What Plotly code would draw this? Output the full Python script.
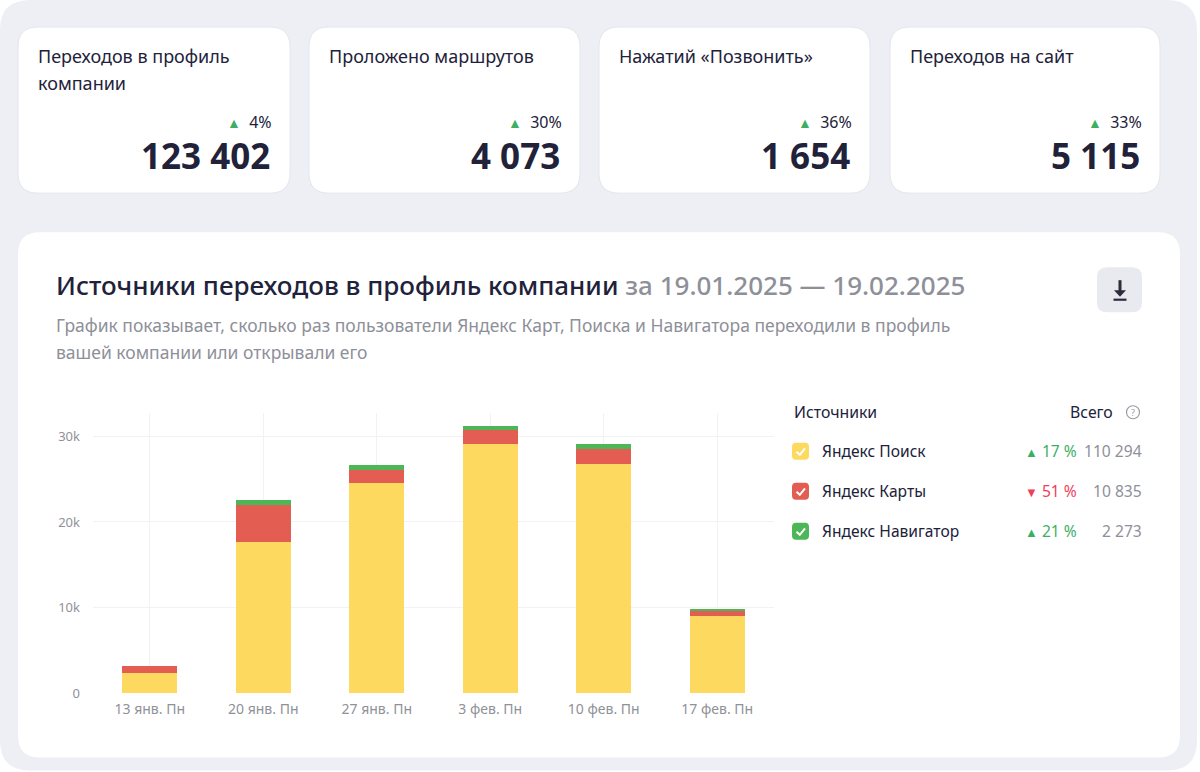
import plotly.graph_objects as go

# ---------------- data ----------------
categories = ["13 янв. Пн", "20 янв. Пн", "27 янв. Пн", "3 фев. Пн", "10 фев. Пн", "17 фев. Пн"]
search = [2350, 17700, 24550, 29150, 26800, 9000]
maps = [780, 4280, 1580, 1630, 1760, 560]
navi = [0, 580, 480, 430, 530, 290]

y_tickvals = [0, 10000, 20000, 30000]
y_ticktext = ["0", "10k", "20k", "30k"]

card_titles = [["Переходов в профиль", "компании"], ["Проложено маршрутов"],
               ["Нажатий «Позвонить»"], ["Переходов на сайт"]]
card_values = ["123 402", "4 073", "1 654", "5 115"]
card_changes = ["4%", "30%", "36%", "33%"]

source_names = ["Яндекс Поиск", "Яндекс Карты", "Яндекс Навигатор"]
source_changes = ["17 %", "51 %", "21 %"]
source_up = [True, False, True]
source_totals = ["110 294", "10 835", "2 273"]

title_main = "Источники переходов в профиль компании"
title_period = "за 19.01.2025 — 19.02.2025"
subtitle_lines = ["График показывает, сколько раз пользователи Яндекс Карт, Поиска и Навигатора переходили в профиль",
                  "вашей компании или открывали его"]

# ---------------- style ----------------
W, H = 1200, 772
HY = 762.5          # effective vertical pixel scale used for positioning
FONT = "Noto Sans"
YELLOW = "#FDD95F"
RED = "#E35D52"
GREEN = "#4DB657"
DARK = "#21223A"
GRAY = "#8E9099"
UP = "#3DAF65"
DOWN = "#F03E5A"
BG = "#EEEFF4"


def X(px):
    return px / W


def Y(py):
    return 1 - py / HY


def rrect(x0, y0, x1, y1, r):
    pts = [
        f"M {X(x0 + r)},{Y(y0)}", f"L {X(x1 - r)},{Y(y0)}", f"Q {X(x1)},{Y(y0)} {X(x1)},{Y(y0 + r)}",
        f"L {X(x1)},{Y(y1 - r)}", f"Q {X(x1)},{Y(y1)} {X(x1 - r)},{Y(y1)}",
        f"L {X(x0 + r)},{Y(y1)}", f"Q {X(x0)},{Y(y1)} {X(x0)},{Y(y1 - r)}",
        f"L {X(x0)},{Y(y0 + r)}", f"Q {X(x0)},{Y(y0)} {X(x0 + r)},{Y(y0)}", "Z"]
    return " ".join(pts)


shapes = []
annotations = []


def box(x0, y0, x1, y1, r, fill, line=None, lw=0):
    shapes.append(dict(type="path", path=rrect(x0, y0, x1, y1, r), xref="paper", yref="paper",
                       fillcolor=fill, line=dict(color=line or fill, width=lw), layer="below"))


def text(x, y, s, size, color, anchor="left", weight=None, family=FONT):
    f = dict(family=family, size=size, color=color)
    if weight:
        f["weight"] = weight
    annotations.append(dict(x=X(x), y=Y(y), xref="paper", yref="paper", text=s, showarrow=False,
                            xanchor=anchor, yanchor="middle", font=f))


# outer background
box(0, 0, 1197, 770, 30, BG)

# cards
card_x = [(18, 290), (309, 580), (599, 870), (890, 1160)]
for (x0, x1), ttl, val, chg in zip(card_x, card_titles, card_values, card_changes):
    box(x0, 27, x1, 193, 20, "white", "#E4E6EC", 1)
    for i, line in enumerate(ttl):
        text(x0 + 18, 56 + 27 * i, line, 18, DARK)
    text(x1 - 16, 122, f"<span style='color:{UP};font-size:14px'>▲</span>  {chg}", 16, DARK, "right")
    text(x1 - 18, 155, val, 35, DARK, "right", weight="bold")

# main panel
box(18, 232, 1180, 757, 22, "white")
text(54, 285, f"{title_main} <span style='color:{GRAY}'>{title_period}</span>", 26, DARK, weight=500)
for i, line in enumerate(subtitle_lines):
    text(54, 325 + 27 * i, line, 17.5, GRAY)

# download button
box(1097, 267, 1142, 312, 10, "#E8EAF0")
shapes.append(dict(type="line", x0=X(1120), x1=X(1120), y0=Y(280), y1=Y(291), xref="paper", yref="paper",
                   line=dict(color="#2B2D3C", width=3)))
shapes.append(dict(type="path", path=f"M {X(1114)},{Y(290)} L {X(1126)},{Y(290)} L {X(1120)},{Y(296.5)} Z",
                   xref="paper", yref="paper", fillcolor="#2B2D3C", line=dict(width=0)))
shapes.append(dict(type="line", x0=X(1113.5), x1=X(1126.5), y0=Y(299.5), y1=Y(299.5), xref="paper", yref="paper",
                   line=dict(color="#2B2D3C", width=2.2)))

# legend header
text(792, 412, "Источники", 15.8, DARK)
text(1115, 412, "Всего", 15.8, DARK, "right")
shapes.append(dict(type="circle", x0=X(1126.5), x1=X(1139.5), y0=Y(405.5), y1=Y(418.5), xref="paper",
                   yref="paper", line=dict(color="#9A9CA4", width=1.2)))
text(1133, 412, "?", 9, "#9A9CA4", "center")

# legend rows
for i, (name, chg, up, tot, col) in enumerate(zip(source_names, source_changes, source_up, source_totals,
                                                   [YELLOW, RED, GREEN])):
    cy = 451 + 40 * i
    box(792, cy - 8.5, 809, cy + 8.5, 4, col)
    shapes.append(dict(type="path",
                       path=f"M {X(796.5)},{Y(cy + 0.5)} L {X(799.8)},{Y(cy + 3.5)} L {X(805)},{Y(cy - 3)}",
                       xref="paper", yref="paper", line=dict(color="white", width=2)))
    text(820, cy, name, 15.6, DARK)
    text(1144, cy, tot, 15.6, GRAY, "right")
    c = UP if up else DOWN
    tri = "▲" if up else "▼"
    text(1079, cy, f"<span style='font-size:13px'>{tri}</span> {chg}", 15.6, c, "right")

# ---------------- chart ----------------
fig = go.Figure()
fig.add_bar(x=categories, y=search, marker=dict(color=YELLOW, line=dict(width=0)), name=source_names[0])
fig.add_bar(x=categories, y=maps, marker=dict(color=RED, line=dict(width=0)), name=source_names[1])
fig.add_bar(x=categories, y=navi, marker=dict(color=GREEN, line=dict(width=0)), name=source_names[2])

fig.update_layout(
    width=W, height=H, autosize=False,
    margin=dict(l=0, r=0, t=0, b=0),
    paper_bgcolor="white", plot_bgcolor="rgba(0,0,0,0)",
    barmode="stack", bargap=0.515, showlegend=False,
    font=dict(family=FONT, color=GRAY),
    shapes=shapes, annotations=annotations,
    xaxis=dict(domain=[X(93), X(774)], showgrid=True, gridcolor="#F1F2F5", gridwidth=1,
               showline=False, zeroline=False, ticks="",
               tickfont=dict(family=FONT, size=14, color="#8F9198"), ticklabelstandoff=6),
    yaxis=dict(domain=[Y(692.7), Y(413)], range=[0, 32700], tickvals=y_tickvals, ticktext=y_ticktext,
               showgrid=True, gridcolor="#F1F2F5", gridwidth=1, zeroline=False, showline=False, ticks="",
               tickfont=dict(family=FONT, size=13, color="#8F9198"), ticklabelstandoff=12),
)

fig.write_html("out.html", config={"displayModeBar": False})

# remove the default page margin so the figure sits at the window origin
with open("out.html", encoding="utf-8") as fh:
    html = fh.read()
html = html.replace("<head>", "<head><style>html,body{margin:0;padding:0;overflow:hidden;}</style>", 1)
with open("out.html", "w", encoding="utf-8") as fh:
    fh.write(html)
